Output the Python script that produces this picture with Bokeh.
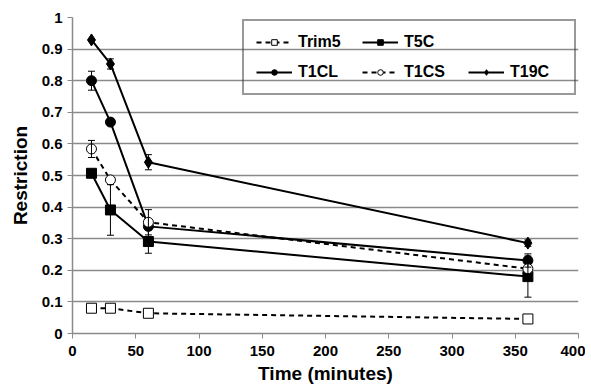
from bokeh.plotting import figure
from bokeh.models import (ColumnDataSource, Whisker, TeeHead, Legend, LegendItem,
                          FixedTicker, Range1d)
from bokeh.embed import file_html
from bokeh.resources import INLINE

# ---- data ----
time_min = [15, 30, 60, 360]

trim5 = [0.080, 0.080, 0.064, 0.046]
trim5_err = [0.0, 0.0, 0.0, 0.0]

t5c = [0.507, 0.391, 0.291, 0.180]
t5c_err = [0.0, 0.080, 0.037, 0.065]

t1cl = [0.800, 0.669, 0.339, 0.231]
t1cl_err = [0.030, 0.0, 0.0, 0.021]

t1cs = [0.584, 0.486, 0.352, 0.205]
t1cs_err = [0.027, 0.0, 0.040, 0.0]

t19c = [0.929, 0.853, 0.542, 0.286]
t19c_err = [0.0, 0.016, 0.024, 0.010]

x_ticks = [0, 50, 100, 150, 200, 250, 300, 350, 400]
y_ticks = [0, 0.1, 0.2, 0.3, 0.4, 0.5, 0.6, 0.7, 0.8, 0.9, 1]
y_tick_labels = ["0", "0.1", "0.2", "0.3", "0.4", "0.5", "0.6", "0.7", "0.8", "0.9", "1"]

x_label = "Time (minutes)"
y_label = "Restriction"

FONT = "Liberation Sans"

W, H = 585, 388
p = figure(width=W, height=H, x_range=Range1d(x_ticks[0], x_ticks[-1]),
           y_range=Range1d(y_ticks[0], y_ticks[-1]),
           output_backend="svg", toolbar_location=None,
           min_border_left=72, min_border_right=W - 578, min_border_top=17,
           min_border_bottom=H - 333)
p.outline_line_color = None
p.background_fill_color = "white"

# grid: horizontal lines at inner ticks, plus right frame line
p.ygrid.ticker = FixedTicker(ticks=y_ticks[1:-1])
p.ygrid.grid_line_color = "#8a8a8a"
p.ygrid.grid_line_width = 1.5
p.xgrid.ticker = FixedTicker(ticks=[x_ticks[-1]])
p.xgrid.grid_line_color = "#a0a0a0"
p.xgrid.grid_line_width = 1.5

for ax in (p.xaxis, p.yaxis):
    ax.axis_line_color = "#8a8a8a"
    ax.axis_line_width = 1.5
    ax.major_tick_line_color = "#8a8a8a"
    ax.major_tick_out = 5
    ax.major_tick_in = 0
    ax.minor_tick_line_color = None
    ax.major_label_text_font = FONT
    ax.major_label_text_font_style = "bold"
    ax.major_label_text_font_size = "15px"
    ax.major_label_text_color = "black"
    ax.axis_label_text_font = FONT
    ax.axis_label_text_font_style = "bold"
    ax.axis_label_text_font_size = "19px"
    ax.axis_label_text_color = "black"

p.xaxis.ticker = FixedTicker(ticks=x_ticks)
p.yaxis.ticker = FixedTicker(ticks=y_ticks)
p.yaxis.major_label_overrides = {t: lab for t, lab in zip(y_ticks, y_tick_labels)}
p.xaxis.axis_label = x_label
p.yaxis.axis_label = y_label
p.xaxis.major_label_standoff = 7
p.yaxis.major_label_standoff = 5
p.xaxis.axis_label_standoff = 4
p.yaxis.axis_label_standoff = 8


def add_errors(vals, errs):
    xs = [x for x, e in zip(time_min, errs) if e > 0]
    ys = [v for v, e in zip(vals, errs) if e > 0]
    es = [e for e in errs if e > 0]
    if not xs:
        return
    src = ColumnDataSource(dict(x=xs, lo=[y - e for y, e in zip(ys, es)],
                                hi=[y + e for y, e in zip(ys, es)]))
    w = Whisker(source=src, base="x", lower="lo", upper="hi",
                line_color="black", line_width=1,
                upper_head=TeeHead(size=7, line_color="black", line_width=1),
                lower_head=TeeHead(size=7, line_color="black", line_width=1))
    w.level = "glyph"
    p.add_layout(w)


for vals, errs in [(trim5, trim5_err), (t5c, t5c_err), (t1cl, t1cl_err),
                   (t1cs, t1cs_err), (t19c, t19c_err)]:
    add_errors(vals, errs)

DASH = "5 4"
l_trim5 = p.line(time_min, trim5, line_color="black", line_width=2, line_dash=DASH)
l_t5c = p.line(time_min, t5c, line_color="black", line_width=2)
l_t1cl = p.line(time_min, t1cl, line_color="black", line_width=2)
l_t1cs = p.line(time_min, t1cs, line_color="black", line_width=2, line_dash=DASH)
l_t19c = p.line(time_min, t19c, line_color="black", line_width=2)

m_trim5 = p.scatter(time_min, trim5, marker="square", size=10, fill_color="white",
                    line_color="black", line_width=1)
m_t5c = p.scatter(time_min, t5c, marker="square", size=10, fill_color="black",
                  line_color="black")
m_t1cl = p.scatter(time_min, t1cl, marker="circle", size=10, fill_color="black",
                   line_color="black")
m_t1cs = p.scatter(time_min, t1cs, marker="circle", size=10, fill_color="white",
                   line_color="black", line_width=1)
m_t19c = p.scatter(time_min, t19c, marker="diamond", size=12, fill_color="black",
                   line_color="black")

blank = p.line(x=[], y=[], line_alpha=0)

legend = Legend(items=[
    LegendItem(label="Trim5", renderers=[l_trim5, m_trim5]),
    LegendItem(label="T5C", renderers=[l_t5c, m_t5c]),
    LegendItem(label=" ", renderers=[blank]),
    LegendItem(label="T1CL", renderers=[l_t1cl, m_t1cl]),
    LegendItem(label="T1CS", renderers=[l_t1cs, m_t1cs]),
    LegendItem(label="T19C", renderers=[l_t19c, m_t19c]),
], ncols=3, orientation="horizontal", location="top_right", margin=2)
legend.border_line_color = "#333333"
legend.border_line_width = 2
legend.background_fill_alpha = 0
legend.label_text_font = FONT
legend.label_text_font_style = "bold"
legend.label_text_font_size = "16px"
legend.label_text_color = "black"
legend.glyph_width = 36
legend.glyph_height = 14
legend.label_height = 14
legend.label_width = 52
legend.label_standoff = 6
legend.spacing = 12
legend.padding = 12
p.add_layout(legend)

open("out.html", "w").write(file_html(p, INLINE))
